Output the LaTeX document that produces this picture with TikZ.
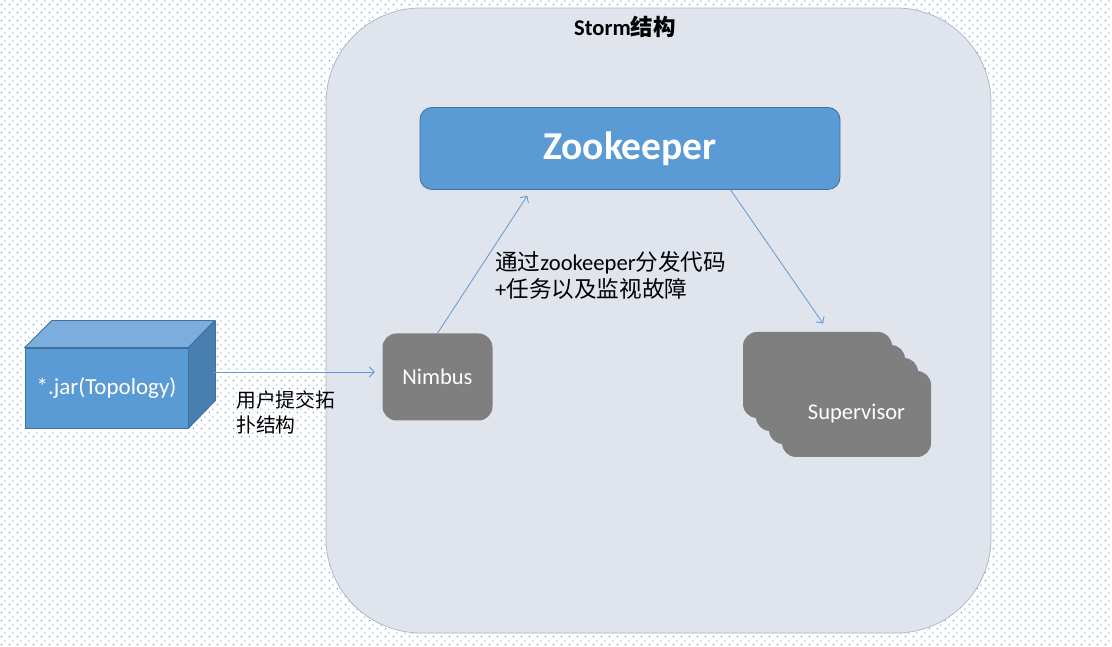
\documentclass[tikz,border=0pt]{standalone}
\usepackage{fontspec}
\setmainfont{Carlito}
\newfontfamily\cjk{Noto Sans CJK SC}
\usetikzlibrary{arrows.meta, patterns.meta}

\definecolor{dotblue}{RGB}{85,135,200}
\definecolor{panelfill}{RGB}{223,228,237}
\definecolor{panelline}{RGB}{178,186,198}
\definecolor{zkblue}{RGB}{91,155,213}
\definecolor{zkline}{RGB}{65,113,156}
\definecolor{jartop}{RGB}{124,174,221}
\definecolor{jarside}{RGB}{72,126,176}
\definecolor{nodegray}{RGB}{127,127,127}
\definecolor{flowblue}{RGB}{98,153,210}

\tikzdeclarepattern{
  name=sparsedots,
  type=uncolored,
  bounding box={(0pt,0pt) and (8pt,8pt)},
  tile size={(8pt,8pt)},
  code={
    \pgfpathrectangle{\pgfpoint{2pt}{2pt}}{\pgfpoint{1.3pt}{1.3pt}}
    \pgfpathrectangle{\pgfpoint{6pt}{6pt}}{\pgfpoint{1.3pt}{1.3pt}}
    \pgfusepath{fill}
  }
}

\tikzset
    { panel/.style =
        { fill=panelfill, draw=panelline, line width=0.8pt
        , rounded corners=95pt
        , minimum width=665pt, minimum height=625pt
        }
    , zkbox/.style =
        { fill=zkblue, draw=zkline, line width=0.8pt, rounded corners=12pt
        , minimum width=420pt, minimum height=82pt
        , text=white, font=\fontsize{39.5}{44}\selectfont\bfseries
        }
    , jarface/.style =
        { fill=zkblue, draw=zkline, line width=0.8pt
        , minimum width=163pt, minimum height=80pt
        , text=white, font=\fontsize{23}{26}\selectfont
        }
    , worker/.style =
        { fill=nodegray, rounded corners=14pt
        , text=white, font=\fontsize{22.5}{26}\selectfont
        }
    , flow/.style =
        { draw=flowblue, line width=0.8pt
        , -{Straight Barb[length=5pt, width=10pt]}
        }
    , note/.style =
        { inner sep=0pt, align=left, anchor=west }
    }

\begin{document}
\begin{tikzpicture}[x=1pt, y=1pt]

    % background
    \fill[pattern=sparsedots, pattern color=dotblue] (0, 0) rectangle (1112, 647);

    % storm cluster
    \node[panel] (storm) at (658.5, 326.5) {};
    \node[font=\fontsize{22.5}{26}\selectfont\bfseries] (title) at (625, 620) {Storm{\cjk 结构}};

    \node[zkbox] (zk) at (630, 498.5) {Zookeeper};
    \node[worker, minimum width=110pt, minimum height=87pt] (nimbus) at (437.5, 270) {Nimbus};

    \foreach \i in {0, 1, 2}
        \node[worker, minimum width=149pt, minimum height=86pt] (sup\i) at (817.5 + 13*\i, 272 - 13*\i) {};
    \node[worker, minimum width=149pt, minimum height=86pt] (sup3) at (856.5, 233) {Supervisor};

    % topology jar
    \node[jarface] (jar) at (106.5, 259) {*.jar(Topology)};
    \filldraw[fill=jartop, draw=zkline, line width=0.8pt, line join=round]
        (jar.north west) -- ++(27, 27) -- ++(163, 0) -- (jar.north east) -- cycle;
    \filldraw[fill=jarside, draw=zkline, line width=0.8pt, line join=round]
        (jar.north east) -- ++(27, 27) -- ++(0, -80) -- (jar.south east) -- cycle;

    % connectors
    \draw[flow, shorten >=7.5pt] ([shift={(25, 16)}]jar.east) -- ([yshift=5pt]nimbus.west);
    \draw[flow, shorten >=7pt] (nimbus.north) -- ([xshift=111.5pt]zk.south west);
    \draw[flow, shorten >=10pt] ([xshift=311pt]zk.south west) -- ([xshift=86pt]sup0.north west);

    % labels
    \node[note, font=\fontsize{19.8}{25}\selectfont\cjk] (submit) at (236, 234.5) {用户提交拓\\扑结构};
    \node[note, font=\fontsize{22.6}{27}\selectfont] (dispatch) at (495, 372)
        {{\cjk 通过}zookeeper{\cjk 分发代码}\\+{\cjk 任务以及监视故障}};

\end{tikzpicture}
\end{document}
